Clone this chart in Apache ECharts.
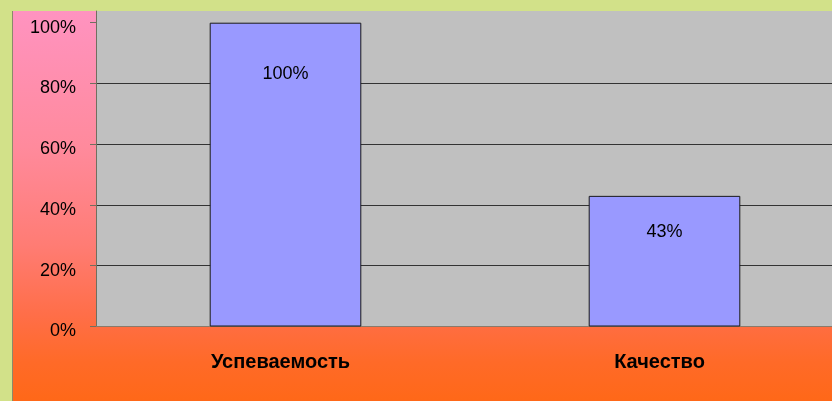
<!DOCTYPE html>
<html>
<head>
<meta charset="utf-8">
<script src="https://cdn.jsdelivr.net/npm/echarts@6/dist/echarts.min.js"></script>
<style>
  html, body { margin: 0; padding: 0; }
  .frame {
    position: relative;
    width: 832px;
    height: 401px;
    background: #d2e189;
    overflow: hidden;
  }
  .panel {
    position: absolute;
    left: 12px;
    top: 11px;
    width: 820px;
    height: 390px;
    border-left: 1px solid #8a8a6a;
    background: linear-gradient(to bottom, #ff93c0 0%, #ff8a9c 35%, #ff7c74 60%, #ff6e48 78%, #ff6a28 90%, #ff6818 100%);
  }
  #chart {
    position: absolute;
    left: 0;
    top: 0;
    width: 854px;
    height: 401px;
  }
</style>
</head>
<body>
<div class="frame">
  <div class="panel"></div>
  <div id="chart"></div>
</div>
<script>
// данные
const categories = ['Успеваемость', 'Качество']
const values = [1.0, 0.43]
const yTicks = [0, 0.2, 0.4, 0.6, 0.8, 1.0]

// отступ подписи от верха столбца
const labelDistances = [42, 27]

const font = "'Liberation Sans', Arial, sans-serif"

const chart = echarts.init(document.getElementById('chart'))

chart.setOption({
  animation: false,
  grid: {
    left: 96,
    top: 11,
    right: 0,
    height: 315.5,
    show: true,
    backgroundColor: '#c0c0c0',
    borderWidth: 0
  },
  xAxis: {
    type: 'category',
    data: categories,
    axisLine: { show: true, lineStyle: { color: '#8a7a6a', width: 1 } },
    axisTick: { show: false },
    axisLabel: {
      margin: 26,
      color: '#000',
      fontFamily: font,
      fontWeight: 'bold',
      fontSize: 20,
      padding: [0, 10, 0, 0]
    },
    splitLine: { show: false }
  },
  yAxis: {
    type: 'value',
    min: 0,
    max: 1.0385,
    interval: 0.2,
    axisLine: { show: true, lineStyle: { color: '#707060', width: 1 } },
    axisTick: {
      show: true,
      length: 6,
      customValues: yTicks,
      lineStyle: { color: '#707060' }
    },
    axisLabel: {
      customValues: yTicks,
      margin: 20,
      color: '#000',
      fontFamily: font,
      fontSize: 18,
      verticalAlign: 'top',
      lineHeight: 10,
      formatter: function (v) { return Math.round(v * 100) + '%' }
    },
    splitLine: {
      show: true,
      showMinLine: false,
      showMaxLine: false,
      lineStyle: { color: '#333', width: 1 }
    }
  },
  series: [{
    type: 'bar',
    barWidth: '40%',
    data: values.map(function (v, i) {
      return {
        value: v,
        label: { distance: labelDistances[i] }
      }
    }),
    itemStyle: {
      color: '#9999ff',
      borderColor: '#1a1a1a',
      borderWidth: 1
    },
    label: {
      show: true,
      position: 'insideTop',
      color: '#000',
      fontFamily: font,
      fontSize: 18,
      formatter: function (p) { return Math.round(p.value * 100) + '%' }
    }
  }]
})
</script>
</body>
</html>
